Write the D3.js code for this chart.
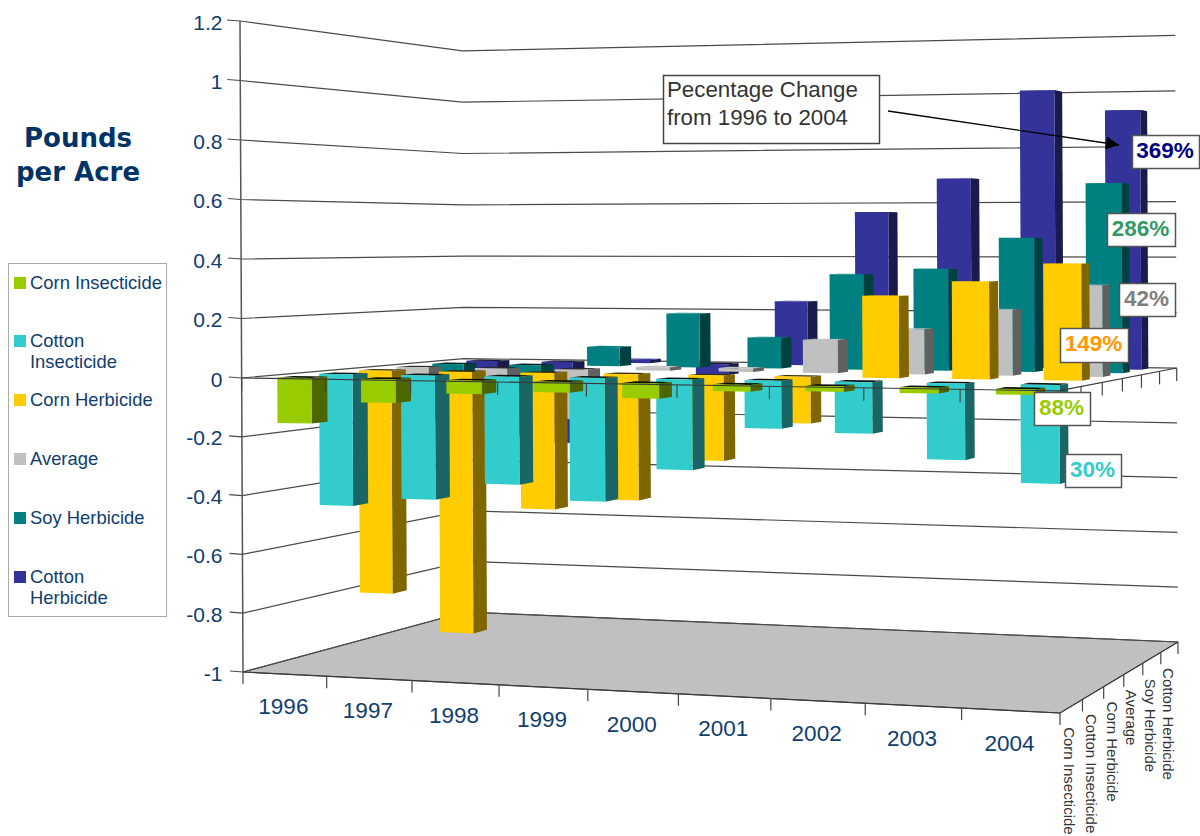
<!DOCTYPE html>
<html>
<head>
<meta charset="utf-8">
<script src="https://cdn.jsdelivr.net/npm/d3@7"></script>
<style>
    html, body { margin: 0; padding: 0; background: #fff; }
    svg { display: block; }
    text { font-family: "Liberation Sans", Arial, sans-serif; }
</style>
</head>
<body>
<svg id="chart" width="1200" height="836"></svg>
<script>
// values (pounds per acre)
const years = ["1996", "1997", "1998", "1999", "2000", "2001", "2002", "2003", "2004"];
const series = ["Corn Insecticide", "Cotton Insecticide", "Corn Herbicide", "Average", "Soy Herbicide", "Cotton Herbicide"];
const ticks = [1.2, 1, 0.8, 0.6, 0.4, 0.2, 0, -0.2, -0.4, -0.6, -0.8, -1];

const cornInsecticide = [-0.155, -0.08, -0.045, -0.035, -0.05, -0.022, -0.018, -0.018, -0.018];
const cottonInsecticide = [-0.46, -0.43, -0.37, -0.42, -0.305, -0.16, -0.17, -0.25, -0.32];
const cornHerbicide = [-0.8, -0.93, -0.48, -0.44, -0.295, -0.16, 0.275, 0.325, 0.385];
const average = [-0.2, -0.25, -0.18, 0.012, 0.012, 0.115, 0.155, 0.225, 0.31];
const soyHerbicide = [-0.05, -0.05, 0.07, 0.195, 0.11, 0.34, 0.36, 0.47, 0.66];
const cottonHerbicide = [-0.1, -0.31, 0.012, -0.04, 0.235, 0.565, 0.685, 1.0, 0.925];

const allValues = [cornInsecticide, cottonInsecticide, cornHerbicide, average, soyHerbicide, cottonHerbicide];

const frontColors = ["#99cc00", "#33cccc", "#ffcc00", "#c0c0c0", "#008080", "#333399"];
const sideColors = ["#4d6600", "#1a6666", "#806600", "#606060", "#004040", "#1a1a4d"];
const hollowColors = ["#0c1000", "#081414", "#3a2e00", "#2a2a2a", "#002020", "#101030"];

const percentLabels = ["369%", "286%", "42%", "149%", "88%", "30%"];
const percentColors = ["#000080", "#339966", "#808080", "#ff9900", "#99cc00", "#33cccc"];
const percentBoxes = [[1132, 135, 67, 33], [1107, 213, 68, 33], [1119, 283, 56, 33], [1060, 328, 68, 34], [1034, 392, 56, 33], [1065, 454, 56, 33]];

const legendY = [283, 341, 400, 459, 518, 577];

const svg = d3.select("#chart");
const navy = "#0f3d6e";

// floor corners on screen: front left, front right, back right, back left
const floor = [[243, 672], [1060, 713], [1178, 642], [465, 612]];

function buildFloor(q) {
    const sx = q[0][0] - q[1][0] + q[2][0] - q[3][0];
    const sy = q[0][1] - q[1][1] + q[2][1] - q[3][1];
    const dx1 = q[1][0] - q[2][0], dx2 = q[3][0] - q[2][0];
    const dy1 = q[1][1] - q[2][1], dy2 = q[3][1] - q[2][1];
    const den = dx1 * dy2 - dx2 * dy1;
    const g = (sx * dy2 - dx2 * sy) / den;
    const h = (dx1 * sy - sx * dy1) / den;
    return {
        g: g, h: h,
        a: q[1][0] * (1 + g) - q[0][0], b: q[3][0] * (1 + h) - q[0][0],
        d: q[1][1] * (1 + g) - q[0][1], e: q[3][1] * (1 + h) - q[0][1]
    };
}
const H = buildFloor(floor);

// screen height above the floor at the front left corner
const rise = d3.scaleLinear().domain([-1, 0, 1.2]).range([0, 294, 651]);
const lean = d3.scaleLinear().domain([-1, 1.2]).range([0, -3]);

function project(x, z, v) {
    const w = 1 + H.g * x + H.h * z;
    return [
        (floor[0][0] + H.a * x + H.b * z + lean(v)) / w,
        (floor[0][1] + H.d * x + H.e * z - rise(v)) / w
    ];
}

const xBand = d3.scaleBand().domain(years).range([0.001, 1.001]).paddingInner(0.59).paddingOuter(0.295);
const zBand = d3.scaleBand().domain(series).range([-0.012, 1.015]).paddingInner(0.62).paddingOuter(0.31);
const xEdge = d3.scaleLinear().domain([0, years.length]).range([0, 1]);
const zEdge = d3.scaleLinear().domain([0, series.length]).range([0, 1]);

const path = d3.line().curve(d3.curveLinearClosed);
const open = d3.line();

function drawFloor() {
    svg.append("path")
        .attr("d", path([[0, 0], [1, 0], [1, 1], [0, 1]].map(c => project(c[0], c[1], -1))))
        .attr("fill", "#c0c0c0")
        .attr("stroke", "#444")
        .attr("stroke-width", 1);
}

function drawGrid() {
    svg.append("g").selectAll("path")
        .data(ticks)
        .enter()
        .append("path")
        .attr("d", d => {
            const p = project(0, 0, d);
            return open([[p[0] - 13, p[1] - 1], p, project(0, 1, d), project(1, 1, d)]);
        })
        .attr("fill", "none")
        .attr("stroke", "#4a4a4a")
        .attr("stroke-width", 1.2);

    svg.append("path")
        .attr("d", open([project(0, 0, 1.2), project(0, 0, -1)]))
        .attr("stroke", "#555")
        .attr("stroke-width", 1.5);

    svg.append("g").selectAll("text")
        .data(ticks)
        .enter()
        .append("text")
        .attr("x", 222.5)
        .attr("y", d => project(0, 0, d)[1] + 8.5)
        .attr("text-anchor", "end")
        .attr("font-size", 21)
        .attr("fill", navy)
        .text(d => d);
}

// front and side ticks of one level
function drawEdgeTicks(level, len) {
    const front = d3.range(years.length + 1).map(i => [xEdge(i), 0]);
    const side = d3.range(1, series.length + 1).map(j => [1, zEdge(j)]);

    svg.append("path")
        .attr("d", open([project(0, 0, level), project(1, 0, level), project(1, 1, level)]))
        .attr("fill", "none")
        .attr("stroke", "#3a3a3a")
        .attr("stroke-width", 1.2);

    svg.append("g").selectAll("line")
        .data(front.concat(side))
        .enter()
        .append("line")
        .attr("x1", d => project(d[0], d[1], level)[0])
        .attr("y1", d => project(d[0], d[1], level)[1])
        .attr("x2", d => project(d[0], d[1], level)[0])
        .attr("y2", d => project(d[0], d[1], level)[1] + len)
        .attr("stroke", "#444")
        .attr("stroke-width", 1.2);
}

function drawBar(g, year, name, value, j) {
    const x0 = xBand(year), x1 = x0 + xBand.bandwidth();
    const z0 = zBand(name), z1 = z0 + zBand.bandwidth();
    const hi = Math.max(value, 0), lo = Math.min(value, 0);

    g.append("path")
        .attr("d", path([project(x0, z0, hi), project(x1, z0, hi), project(x1, z1, hi), project(x0, z1, hi)]))
        .attr("fill", value < 0 ? hollowColors[j] : frontColors[j]);
    g.append("path")
        .attr("d", path([project(x1, z0, hi), project(x1, z1, hi), project(x1, z1, lo), project(x1, z0, lo)]))
        .attr("fill", sideColors[j]);
    g.append("path")
        .attr("d", path([project(x0, z0, hi), project(x1, z0, hi), project(x1, z0, lo), project(x0, z0, lo)]))
        .attr("fill", frontColors[j]);
}

function drawBars() {
    const g = svg.append("g");
    // back row first, left to right, so nearer bars paint over
    for (let j = series.length - 1; j >= 0; --j) {
        years.forEach((y, i) => drawBar(g, y, series[j], allValues[j][i], j));
    }
}

function drawAxisLabels() {
    svg.append("g").selectAll("text")
        .data(years)
        .enter()
        .append("text")
        .attr("x", d => project(xBand(d) + xBand.bandwidth() / 2, 0, -1)[0] - 2)
        .attr("y", d => project(xBand(d) + xBand.bandwidth() / 2, 0, -1)[1] + 40)
        .attr("text-anchor", "middle")
        .attr("font-size", 22.5)
        .attr("fill", navy)
        .text(d => d);

    svg.append("g").selectAll("text")
        .data(series)
        .enter()
        .append("text")
        .attr("transform", (d, j) => {
            const p = project(1, zEdge(j + 0.5), -1);
            return "translate(" + (p[0] - 7) + "," + (p[1] + 21) + ") rotate(90)";
        })
        .attr("font-size", 15)
        .attr("fill", "#333")
        .text(d => d);
}

function drawLegend() {
    const g = svg.append("g");
    g.append("rect")
        .attr("x", 8.5).attr("y", 263.5)
        .attr("width", 158).attr("height", 353)
        .attr("fill", "#fff").attr("stroke", "#aaa").attr("stroke-width", 1);

    const rows = g.selectAll("g").data(series).enter().append("g")
        .attr("transform", (d, j) => "translate(0," + legendY[j] + ")");
    rows.append("rect")
        .attr("x", 14).attr("y", -6)
        .attr("width", 12).attr("height", 12)
        .attr("fill", (d, j) => frontColors[j]);
    rows.append("text")
        .attr("font-size", 18.4)
        .attr("fill", navy)
        .selectAll("tspan")
        .data(d => d.startsWith("Cotton") ? d.split(" ") : [d])
        .enter()
        .append("tspan")
        .attr("x", 30)
        .attr("y", (d, k) => 6 + k * 21)
        .text(d => d);
}

function drawNotes() {
    svg.append("defs").append("marker")
        .attr("id", "head")
        .attr("viewBox", "0 0 10 10")
        .attr("refX", 10).attr("refY", 5)
        .attr("markerWidth", 11).attr("markerHeight", 10)
        .attr("orient", "auto")
        .append("path")
        .attr("d", "M0,0L10,5L0,10Z");

    svg.append("rect")
        .attr("x", 663.5).attr("y", 75.5)
        .attr("width", 216).attr("height", 68)
        .attr("fill", "#fff").attr("stroke", "#444").attr("stroke-width", 1.5);
    svg.append("text")
        .attr("font-size", 22.3)
        .attr("fill", "#333")
        .selectAll("tspan")
        .data(["Pecentage Change", "from 1996 to 2004"])
        .enter()
        .append("tspan")
        .attr("x", 667)
        .attr("y", (d, k) => 97 + k * 28)
        .text(d => d);

    svg.append("line")
        .attr("x1", 888).attr("y1", 111)
        .attr("x2", 1119).attr("y2", 145)
        .attr("stroke", "#000").attr("stroke-width", 1.3)
        .attr("marker-end", "url(#head)");

    const boxes = svg.append("g").selectAll("g")
        .data(percentLabels)
        .enter()
        .append("g");
    boxes.append("rect")
        .attr("x", (d, i) => percentBoxes[i][0] + 0.5)
        .attr("y", (d, i) => percentBoxes[i][1] + 0.5)
        .attr("width", (d, i) => percentBoxes[i][2])
        .attr("height", (d, i) => percentBoxes[i][3])
        .attr("fill", "#fff").attr("stroke", "#555").attr("stroke-width", 1.5);
    boxes.append("text")
        .attr("x", (d, i) => percentBoxes[i][0] + percentBoxes[i][2] / 2 - 0.5)
        .attr("y", (d, i) => percentBoxes[i][1] + 23)
        .attr("text-anchor", "middle")
        .attr("font-size", 22.5)
        .attr("font-weight", "bold")
        .attr("fill", (d, i) => percentColors[i])
        .text(d => d);

    svg.append("text")
        .attr("font-size", 26)
        .attr("font-weight", "bold")
        .attr("fill", "#003366")
        .attr("text-anchor", "middle")
        .selectAll("tspan")
        .data(["Pounds", "per Acre"])
        .enter()
        .append("tspan")
        .attr("x", 78)
        .attr("y", (d, k) => 147 + k * 34)
        .style("font-family", "'DejaVu Sans', Verdana, sans-serif")
        .text(d => d);
}

drawFloor();
drawGrid();
drawEdgeTicks(-1, 12);
drawBars();
drawEdgeTicks(0, 13);
drawAxisLabels();
drawLegend();
drawNotes();
</script>
</body>
</html>
